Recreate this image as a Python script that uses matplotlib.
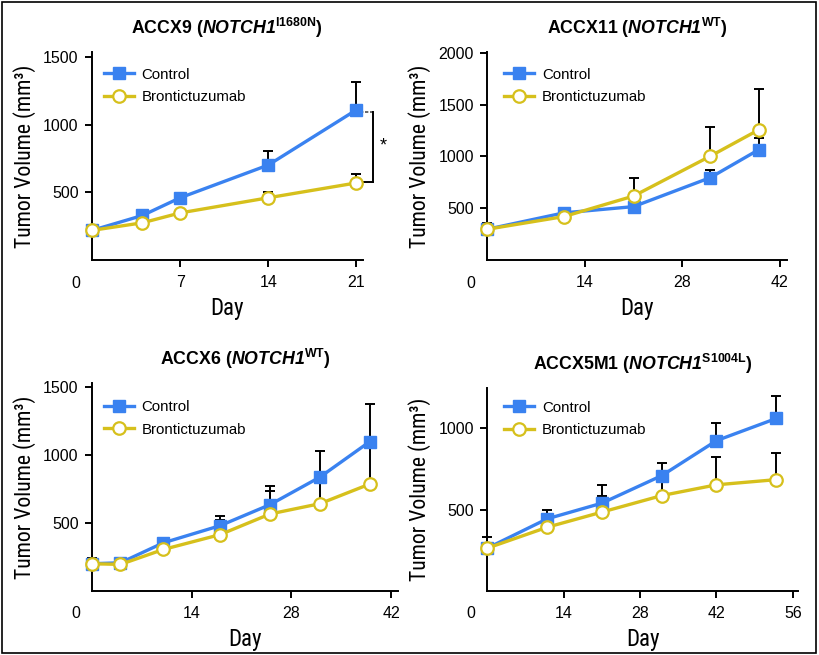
import os
import matplotlib
matplotlib.use("Agg")
import matplotlib.pyplot as plt
from matplotlib import font_manager
from matplotlib.font_manager import FontProperties
from matplotlib.patches import Rectangle
from matplotlib.transforms import offset_copy

# data (mm3), upper error bars only
days1 = [0, 4, 7, 14, 21]
ctrl1 = [219, 329, 460, 702, 1110]
ctrl1_err = [0, 36, 0, 103, 207]
bront1 = [219, 275, 348, 460, 570]
bront1_err = [0, 0, 0, 40, 64]

days2 = [0, 11, 21, 32, 39]
ctrl2 = [297, 455, 515, 794, 1065]
ctrl2_err = [58, 51, 0, 70, 112]
bront2 = [297, 419, 617, 1001, 1257]
bront2_err = [0, 0, 170, 282, 397]

days3 = [0, 4, 10, 18, 25, 32, 39]
ctrl3 = [199, 206, 353, 480, 635, 838, 1100]
ctrl3_err = [44, 37, 29, 69, 135, 189, 275]
bront3 = [199, 194, 304, 414, 566, 642, 787]
bront3_err = [0, 0, 0, 110, 167, 190, 310]

days4 = [0, 11, 21, 32, 42, 53]
ctrl4 = [262, 443, 539, 709, 924, 1061]
ctrl4_err = [68, 55, 113, 76, 107, 140]
bront4 = [262, 391, 484, 586, 652, 684]
bront4_err = [0, 0, 102, 120, 174, 162]

titles = [r"ACCX9 ($\mathbfit{NOTCH1}^{\mathbf{I1680N}}$)",
          r"ACCX11 ($\mathbfit{NOTCH1}^{\mathbf{WT}}$)",
          r"ACCX6 ($\mathbfit{NOTCH1}^{\mathbf{WT}}$)",
          r"ACCX5M1 ($\mathbfit{NOTCH1}^{\mathbf{S1004L}}$)"]
xticks = [[7, 14, 21], [14, 28, 42], [14, 28, 42], [14, 28, 42, 56]]
yticks = [[500, 1000, 1500], [500, 1000, 1500, 2000], [500, 1000, 1500], [500, 1000]]
xlims = [21.5, 43, 43, 57]
ylims = [1540, 2010, 1530, 1250]

BLUE = "#3a82f0"
YELLOW = "#d6c01c"
YLABEL = "Tumor Volume (mm³)"

plt.rcParams["font.family"] = ["Liberation Sans", "DejaVu Sans"]
plt.rcParams["mathtext.fontset"] = "custom"
plt.rcParams["mathtext.rm"] = "Liberation Sans:bold"
plt.rcParams["mathtext.bf"] = "Liberation Sans:bold"
plt.rcParams["mathtext.bfit"] = "Liberation Sans:italic:bold"
plt.rcParams["mathtext.it"] = "Liberation Sans:italic:bold"


# the axis labels in the original use a condensed face; pick one if installed
def find_narrow():
    prefs = ["liberationsansnarrow-regular", "robotocondensed-regular",
             "dejavusanscondensed.", "opensans_condensed-regular", "notosanscondensed-regular"]
    files = [f.fname for f in font_manager.fontManager.ttflist]
    for p in prefs:
        for fn in files:
            if os.path.basename(fn).lower().startswith(p):
                return fn
    return None


narrow_file = find_narrow()


def label_font(size):
    if narrow_file:
        return FontProperties(fname=narrow_file, size=size)
    return FontProperties(family="Liberation Sans", size=size)


W, H = 819, 655
fig = plt.figure(figsize=(W / 100, H / 100), dpi=100)
renderer = fig.canvas.get_renderer()

# size the y label so that it spans ~182 px like the original
probe = fig.text(0, 0, YLABEL, fontproperties=label_font(10))
wid = probe.get_window_extent(renderer).width
probe.remove()
lab_size = min(16, 10 * 182 / wid)

# axes boxes in pixels: left, right, top, bottom
boxes = [(92, 362.7, 51.7, 260), (487.3, 786.7, 51.7, 260),
         (92, 398.3, 383.3, 590.7), (487.3, 798.3, 387.7, 590.7)]
legend_off = [(12, 16), (17, 16), (12, 17), (17, 13)]

data = [(days1, ctrl1, ctrl1_err, bront1, bront1_err),
        (days2, ctrl2, ctrl2_err, bront2, bront2_err),
        (days3, ctrl3, ctrl3_err, bront3, bront3_err),
        (days4, ctrl4, ctrl4_err, bront4, bront4_err)]

axes = []
for i, (l, r, t, b) in enumerate(boxes):
    ax = fig.add_axes([l / W, 1 - b / H, (r - l) / W, (b - t) / H])
    axes.append(ax)
    days, ctrl, cerr, bront, berr = data[i]

    ax.errorbar(days, ctrl, yerr=[[0] * len(cerr), cerr], fmt="none", ecolor="k",
                elinewidth=1.4, capsize=3.3, capthick=1.4, zorder=1, clip_on=False)
    ax.errorbar(days, bront, yerr=[[0] * len(berr), berr], fmt="none", ecolor="k",
                elinewidth=1.4, capsize=3.3, capthick=1.4, zorder=1, clip_on=False)
    ax.plot(days, ctrl, color=BLUE, lw=2.4, marker="s", ms=8.5, mfc=BLUE, mec=BLUE,
            label="Control", zorder=3, clip_on=False)
    ax.plot(days, bront, color=YELLOW, lw=2.4, marker="o", ms=9, mfc="white", mec=YELLOW,
            mew=1.6, label="Brontictuzumab", zorder=4, clip_on=False)

    ax.set_xlim(0, xlims[i])
    ax.set_ylim(0, ylims[i])
    ax.set_xticks(xticks[i])
    ax.set_yticks(yticks[i])
    for s in ["top", "right"]:
        ax.spines[s].set_visible(False)
    for s in ["left", "bottom"]:
        ax.spines[s].set_linewidth(1.4)
    ax.tick_params(axis="both", direction="out", length=4.7, width=1.4, labelsize=11.5)
    ax.tick_params(axis="x", pad=6)
    ax.tick_params(axis="y", pad=5)

    ax.annotate("0", xy=(0, 0), xycoords="axes fraction", xytext=(-16, -23),
                textcoords="offset pixels", ha="center", va="center", fontsize=11.5)

    axw, axh = r - l, b - t
    ax.set_ylabel(YLABEL, fontproperties=label_font(lab_size))
    ax.yaxis.set_label_coords(-56 / axw, 0.5)
    ax.set_xlabel("Day", fontproperties=label_font(lab_size + 1))
    ax.xaxis.set_label_coords(0.5, -37 / axh)

    ax.annotate(titles[i], xy=(0.5, 1), xycoords="axes fraction", xytext=(0, 24),
                textcoords="offset pixels", ha="center", va="center",
                fontsize=12.8, fontweight="bold")

    dx, dy = legend_off[i]
    ax.legend(loc="upper left", bbox_to_anchor=(0, 1),
              bbox_transform=offset_copy(ax.transAxes, fig=fig, x=dx, y=-dy, units="dots"),
              frameon=False, fontsize=10.8, handlelength=2.0, handletextpad=0.5,
              labelspacing=0.55, borderpad=0, borderaxespad=0)

# significance bracket on ACCX9
ax = axes[0]
ax.plot([21.3, 22.3], [1095, 1095], color="0.3", lw=1.2, ls=(0, (2, 1)), clip_on=False)
ax.plot([22.3, 22.3], [1095, 578], color="k", lw=1.4, clip_on=False)
ax.plot([21.55, 22.3], [578, 578], color="k", lw=1.4, clip_on=False)
ax.text(23.1, 841, "*", ha="center", va="center", fontsize=13)

fig.patches.append(Rectangle((1.5 / W, 2 / H), (W - 4.5) / W, (H - 3.5) / H,
                             transform=fig.transFigure, fill=False, ec="k", lw=1.2))

fig.savefig("out.png", dpi=100)
